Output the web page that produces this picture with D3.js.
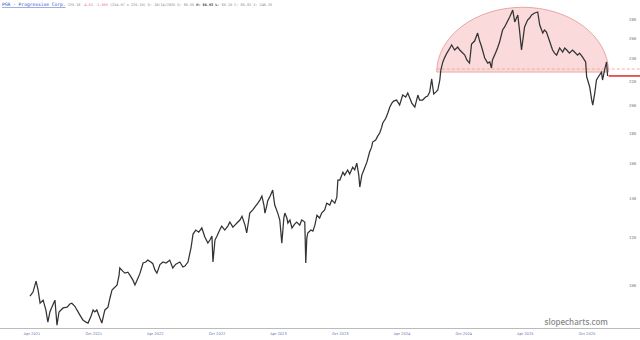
<!DOCTYPE html>
<html><head><meta charset="utf-8">
<script src="https://cdn.jsdelivr.net/npm/d3@7/dist/d3.min.js"></script>
<style>body{margin:0;background:#fff}svg{display:block}</style>
</head><body><svg id="c" width="640" height="340"></svg>
<script>
const dates = ["2021-03-26","2021-04-04","2021-04-13","2021-04-19","2021-04-25","2021-05-04","2021-05-12","2021-05-18","2021-05-24","2021-05-30","2021-06-08","2021-06-14","2021-06-20","2021-07-02","2021-07-14","2021-07-22","2021-07-28","2021-08-06","2021-08-12","2021-08-21","2021-08-30","2021-09-08","2021-09-14","2021-09-23","2021-09-29","2021-10-04","2021-10-10","2021-10-19","2021-10-25","2021-10-31","2021-11-03","2021-11-12","2021-11-18","2021-11-24","2021-12-03","2021-12-09","2021-12-15","2021-12-17","2021-12-26","2022-01-01","2022-01-10","2022-01-16","2022-01-25","2022-01-31","2022-02-09","2022-02-15","2022-02-24","2022-03-04","2022-03-10","2022-03-19","2022-03-25","2022-03-31","2022-04-06","2022-04-15","2022-04-24","2022-05-03","2022-05-14","2022-05-23","2022-06-01","2022-06-13","2022-06-22","2022-06-28","2022-07-07","2022-07-16","2022-07-22","2022-07-30","2022-08-08","2022-08-17","2022-08-26","2022-09-04","2022-09-10","2022-09-16","2022-09-19","2022-09-25","2022-10-01","2022-10-09","2022-10-15","2022-10-24","2022-11-02","2022-11-08","2022-11-17","2022-11-23","2022-11-29","2022-12-08","2022-12-14","2022-12-23","2022-12-28","2023-01-03","2023-01-06","2023-01-15","2023-01-21","2023-01-30","2023-02-05","2023-02-11","2023-02-17","2023-02-20","2023-02-26","2023-02-28","2023-03-06","2023-03-15","2023-03-21","2023-03-30","2023-04-05","2023-04-11","2023-04-17","2023-04-20","2023-04-26","2023-04-29","2023-05-05","2023-05-11","2023-05-19","2023-05-25","2023-06-03","2023-06-09","2023-06-18","2023-06-21","2023-06-24","2023-06-27","2023-07-06","2023-07-12","2023-07-18","2023-07-24","2023-08-01","2023-08-07","2023-08-16","2023-08-22","2023-08-31","2023-09-06","2023-09-15","2023-09-21","2023-09-24","2023-09-30","2023-10-09","2023-10-14","2023-10-23","2023-10-29","2023-11-07","2023-11-13","2023-11-19","2023-11-25","2023-11-28","2023-12-04","2023-12-10","2023-12-19","2023-12-27","2024-01-02","2024-01-05","2024-01-14","2024-01-20","2024-01-26","2024-02-01","2024-02-04","2024-02-13","2024-02-19","2024-02-25","2024-03-02","2024-03-07","2024-03-16","2024-03-25","2024-04-03","2024-04-12","2024-04-18","2024-04-24","2024-04-30","2024-05-09","2024-05-18","2024-05-23","2024-06-01","2024-06-10","2024-06-16","2024-06-22","2024-06-28","2024-07-04","2024-07-10","2024-07-16","2024-07-22","2024-07-25","2024-07-31","2024-08-06","2024-08-12","2024-08-21","2024-08-26","2024-09-04","2024-09-13","2024-09-19","2024-09-25","2024-10-04","2024-10-10","2024-10-18","2024-10-24","2024-11-02","2024-11-11","2024-11-17","2024-11-23","2024-12-02","2024-12-11","2024-12-17","2024-12-22","2024-12-25","2025-01-03","2025-01-09","2025-01-15","2025-01-24","2025-01-30","2025-02-05","2025-02-14","2025-02-23","2025-03-01","2025-03-10","2025-03-15","2025-03-21","2025-03-27","2025-03-30","2025-04-08","2025-04-14","2025-04-20","2025-04-29","2025-05-08","2025-05-14","2025-05-23","2025-05-28","2025-06-03","2025-06-12","2025-06-21","2025-06-27","2025-07-03","2025-07-12","2025-07-21","2025-07-27","2025-08-02","2025-08-10","2025-08-19","2025-08-25","2025-09-03","2025-09-09","2025-09-18","2025-09-27","2025-09-30","2025-10-03","2025-10-09","2025-10-15","2025-10-18","2025-10-24","2025-10-29","2025-11-07","2025-11-13","2025-11-16","2025-11-22","2025-11-28","2025-12-01"];
const closes = [95.8,97.3,101.5,98.1,93.2,94.3,90.8,86.6,90.1,91.8,94.3,85.6,90.1,91.5,91.8,92.9,93.2,92.1,90.8,89.0,87.3,86.6,86.3,88.7,90.8,90.1,90.8,88.0,86.3,89.4,90.8,91.8,95.1,98.1,99.2,100.0,103.9,106.8,105.5,104.7,105.1,103.9,101.9,100.0,102.7,104.7,108.9,109.3,110.1,109.3,108.6,106.0,104.7,108.2,109.3,108.9,110.1,106.8,108.4,109.3,107.2,107.6,109.3,115.4,121.8,123.7,122.7,124.7,120.4,117.6,119.0,120.9,109.3,119.0,120.9,123.7,125.6,123.7,125.6,127.6,125.1,126.1,127.1,128.6,130.5,126.1,122.3,128.6,132.1,133.7,135.2,137.3,138.9,141.1,136.3,132.1,136.3,138.4,140.5,144.4,136.3,132.1,128.6,117.6,129.6,132.1,129.6,127.1,128.6,124.7,126.6,127.6,126.1,128.6,127.6,108.9,119.9,122.3,123.7,123.2,126.1,131.0,129.6,132.1,133.7,137.3,136.3,138.9,137.3,140.5,150.1,150.1,154.8,153.0,156.1,153.6,157.8,156.1,160.3,153.0,146.1,153.0,156.1,160.9,167.3,170.5,173.9,175.3,177.9,180.1,184.2,187.2,190.7,194.6,199.1,202.2,203.8,204.6,200.7,208.6,207.0,210.2,206.2,202.2,199.1,208.6,204.6,204.6,207.0,207.8,211.0,222.0,209.4,211.0,212.7,221.1,229.8,237.1,241.6,245.4,250.3,253.2,248.3,251.2,248.3,246.4,243.5,238.9,236.1,254.2,257.1,265.2,257.1,251.2,240.8,236.1,237.1,231.6,238.9,245.4,250.3,256.1,268.3,271.5,275.7,282.2,289.9,276.8,284.4,268.3,248.3,263.3,271.5,278.9,281.1,284.4,286.6,287.7,273.6,265.2,268.3,266.2,257.1,248.3,245.4,243.5,250.3,246.4,250.3,248.3,245.4,248.3,246.4,243.5,245.4,241.6,237.1,223.7,221.1,215.2,204.6,200.7,210.2,221.1,225.4,227.9,221.1,229.8,237.1,224.6];

const yTicks = [100,120,140,160,180,200,220,240,260,280];
const xTickDates = ["2021-04-01","2021-10-01","2022-04-01","2022-10-01","2023-04-01","2023-10-01","2024-04-01","2024-10-01","2025-04-01","2025-10-01"];

// pattern annotation (rounded top) and levels
const arcStart = "2024-07-13", arcEnd = "2025-12-04";
const arcBase = 228, arcTop = 293;
const necklinePrice = 230.7;
const lastPrice = 224.6;

const header = [
  {t:"PGR - Progressive Corp.", c:"#3050c8", u:true, s:4.6},
  {t:" 235.18 ", c:"#888", s:3.5},
  {t:"-4.63 -1.95%", c:"#e07080", s:3.5},
  {t:" (234.97 x 235.19) D: 10/14/2025 O: 86.55 ", c:"#888", s:3.5},
  {t:"H:", c:"#333", b:true, s:3.5},
  {t:" 86.93 L:", c:"#333", b:true, s:3.5},
  {t:" 86.19 C: 86.83 V: 240.35", c:"#888", s:3.5}
];

const parse = d3.timeParse("%Y-%m-%d");
const data = dates.map((d,i)=>({date:parse(d), v:closes[i]}));

const svg = d3.select("#c");
const x = d3.scaleTime().domain([parse("2021-04-01"), parse("2025-10-01")]).range([32,587]);
const y = d3.scaleLog().domain([100,280]).range([285,19]);

// pattern shape
const x0 = x(parse(arcStart)), x1 = x(parse(arcEnd));
const yb = y(arcBase), ry = yb - y(arcTop), rx = (x1-x0)/2;
svg.append("path")
  .attr("d", `M${x0},${yb} A${rx},${ry} 0 0 1 ${x1},${yb} Z`)
  .attr("fill","#fad6d6").attr("fill-opacity",0.9)
  .attr("stroke","#e39494").attr("stroke-width",0.8);

// neckline dashed
svg.append("line").attr("x1",x0).attr("x2",640)
  .attr("y1",y(necklinePrice)).attr("y2",y(necklinePrice))
  .attr("stroke","#eba08e").attr("stroke-width",0.8).attr("stroke-dasharray","3,2");

// price line
svg.append("path").datum(data)
  .attr("d", d3.line().x(d=>x(d.date)).y(d=>y(d.v)))
  .attr("fill","none").attr("stroke","#333").attr("stroke-width",1.25)
  .attr("stroke-linejoin","miter").attr("stroke-miterlimit",3);

// last price line
svg.append("line").attr("x1",x(data[data.length-1].date)+1).attr("x2",640)
  .attr("y1",y(lastPrice)).attr("y2",y(lastPrice))
  .attr("stroke","#e03535").attr("stroke-width",1.6);

// y labels
svg.append("g").selectAll("text").data(yTicks).join("text")
  .attr("x",629).attr("y",d=>y(d)+1.5)
  .attr("font-family","DejaVu Sans Mono, monospace").attr("font-size",4)
  .attr("fill","#777").text(d=>d);

// x axis line
svg.append("line").attr("x1",0).attr("x2",640).attr("y1",328.5).attr("y2",328.5)
  .attr("stroke","#bbb").attr("stroke-width",1);

// x labels
const fmt = d3.timeFormat("%b %Y");
svg.append("g").selectAll("text").data(xTickDates).join("text")
  .attr("x",d=>x(parse(d))).attr("y",334.5).attr("text-anchor","middle")
  .attr("font-family","DejaVu Sans, sans-serif").attr("font-size",3.6)
  .attr("fill","#6070a8").text(d=>fmt(parse(d)));

// watermark
svg.append("text").attr("x",608).attr("y",325).attr("text-anchor","end")
  .attr("font-family","Open Sans, sans-serif").attr("font-size",8).attr("font-weight",600)
  .attr("fill","#8a8a8a").text("slopecharts.com");

// header
const ht = svg.append("text").attr("x",2).attr("y",6)
  .attr("font-family","DejaVu Sans Mono, monospace").attr("xml:space","preserve");
header.forEach(h=>{
  ht.append("tspan").text(h.t).attr("fill",h.c).attr("font-size",h.s)
    .attr("font-weight",h.b?"bold":"normal")
    .attr("text-decoration",h.u?"underline":null);
});
</script></body></html>
